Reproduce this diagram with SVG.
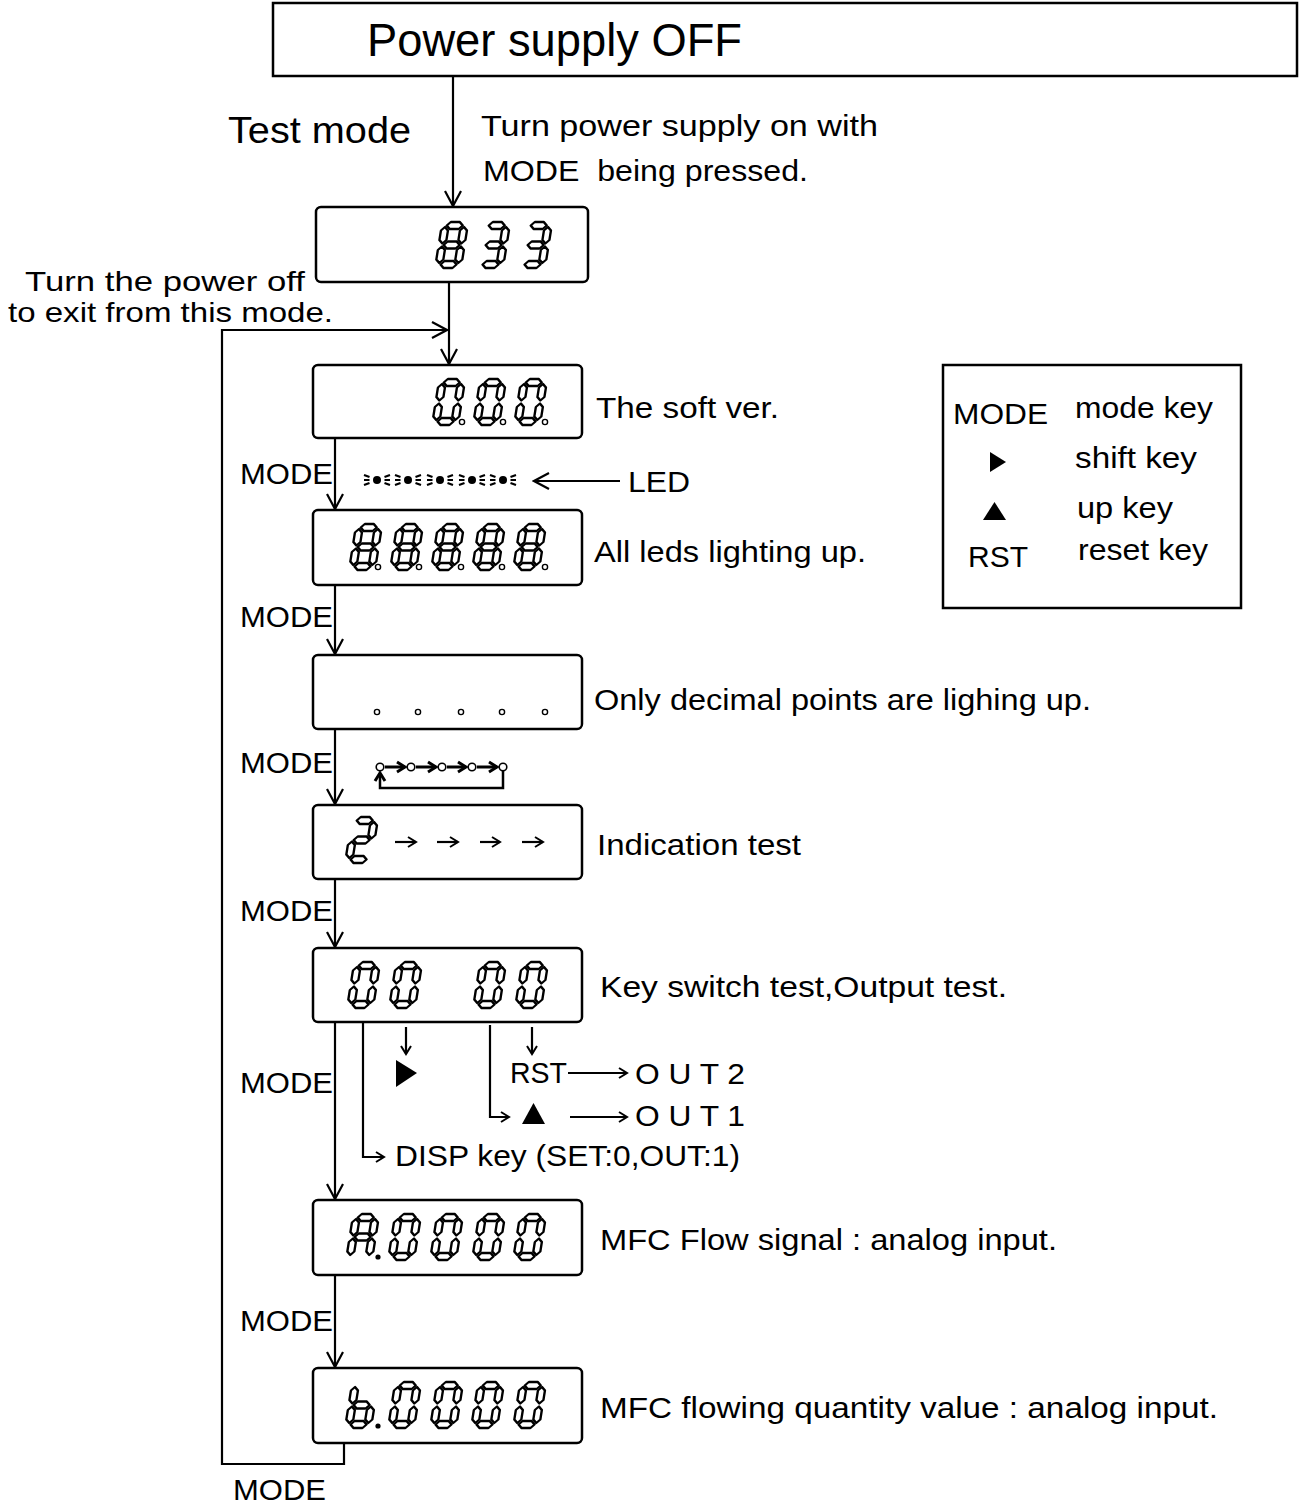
<svg xmlns="http://www.w3.org/2000/svg" xmlns:xlink="http://www.w3.org/1999/xlink" width="1300" height="1505" viewBox="0 0 1300 1505">
<style>
.t{font-family:"Liberation Sans",Arial,sans-serif;font-size:30px;fill:#000}
.box{fill:#fff;stroke:#000;stroke-width:2.5}
.disp{fill:#fff;stroke:#000;stroke-width:2.5}
.seg{fill:#fff;stroke:#000;stroke-width:2.4;stroke-linejoin:round}
.ln{fill:none;stroke:#000;stroke-width:2.2}
.dp{fill:#fff;stroke:#000;stroke-width:1.4}
</style>
<defs>
<marker id="av" viewBox="-18 -10 20 20" refX="0" refY="0" markerWidth="20" markerHeight="20" markerUnits="userSpaceOnUse" orient="auto">
<path d="M-15,-8 L0,0 L-15,8" fill="none" stroke="#000" stroke-width="2.2"/>
</marker>
<marker id="as" viewBox="-10 -7 12 14" refX="0" refY="0" markerWidth="12" markerHeight="14" markerUnits="userSpaceOnUse" orient="auto">
<path d="M-8,-5 L0,0 L-8,5" fill="none" stroke="#000" stroke-width="2"/>
</marker>
<marker id="ab" viewBox="-10 -7 12 14" refX="0" refY="0" markerWidth="12" markerHeight="14" markerUnits="userSpaceOnUse" orient="auto">
<path d="M-8,-5 L0,0 L-8,5" fill="none" stroke="#000" stroke-width="3"/>
</marker>
<path id="sa" class="seg" d="M5,-42.5 L8.5,-46 L17.5,-46 L21,-42.5 L17.5,-39 L8.5,-39 Z"/>
<path id="sg" class="seg" d="M5,-23 L8.5,-26.5 L17.5,-26.5 L21,-23 L17.5,-19.5 L8.5,-19.5 Z"/>
<path id="sd" class="seg" d="M5,-3.5 L8.5,-7 L17.5,-7 L21,-3.5 L17.5,0 L8.5,0 Z"/>
<path id="sb" class="seg" d="M22.5,-41 L26,-37.5 L26,-28 L22.5,-24.5 L19,-28 L19,-37.5 Z"/>
<path id="sc" class="seg" d="M22.5,-21.5 L26,-18 L26,-8.5 L22.5,-5 L19,-8.5 L19,-18 Z"/>
<path id="sf" class="seg" d="M3.5,-41 L7,-37.5 L7,-28 L3.5,-24.5 L0,-28 L0,-37.5 Z"/>
<path id="se" class="seg" d="M3.5,-21.5 L7,-18 L7,-8.5 L3.5,-5 L0,-8.5 L0,-18 Z"/>
<g id="d8"><use xlink:href="#sa"/><use xlink:href="#sb"/><use xlink:href="#sc"/><use xlink:href="#sd"/><use xlink:href="#se"/><use xlink:href="#sf"/><use xlink:href="#sg"/></g>
<g id="d0"><use xlink:href="#sa"/><use xlink:href="#sb"/><use xlink:href="#sc"/><use xlink:href="#sd"/><use xlink:href="#se"/><use xlink:href="#sf"/></g>
<g id="d3"><use xlink:href="#sa"/><use xlink:href="#sb"/><use xlink:href="#sc"/><use xlink:href="#sd"/><use xlink:href="#sg"/></g>
<g id="d2"><use xlink:href="#sa"/><use xlink:href="#sb"/><use xlink:href="#sg"/><use xlink:href="#se"/><use xlink:href="#sd"/></g>
<g id="dA"><use xlink:href="#sa"/><use xlink:href="#sb"/><use xlink:href="#sc"/><use xlink:href="#se"/><use xlink:href="#sf"/><use xlink:href="#sg"/></g>
<g id="db"><use xlink:href="#sc"/><use xlink:href="#sd"/><use xlink:href="#se"/><use xlink:href="#sf"/><use xlink:href="#sg"/></g>
<g id="led"><circle cx="0" cy="0" r="4" fill="#000"/><path d="M-13,-5 L-7.5,-3 M-13,0 L-7.5,0 M-13,5 L-7.5,3 M13,-5 L7.5,-3 M13,0 L7.5,0 M13,5 L7.5,3" stroke="#000" stroke-width="2.2" fill="none"/></g>
</defs>
<rect width="1300" height="1505" fill="#fff"/>

<g id="connectors">
<line class="ln" x1="453" y1="76" x2="453" y2="206" marker-end="url(#av)"/>
<line class="ln" x1="449" y1="282" x2="449" y2="364" marker-end="url(#av)"/>
<polyline class="ln" points="344,1443 344,1464 222,1464 222,330 447,330" marker-end="url(#av)"/>
<line class="ln" x1="335" y1="438" x2="335" y2="509" marker-end="url(#av)"/>
<line class="ln" x1="335" y1="585" x2="335" y2="654" marker-end="url(#av)"/>
<line class="ln" x1="335" y1="729" x2="335" y2="804" marker-end="url(#av)"/>
<line class="ln" x1="335" y1="879" x2="335" y2="947" marker-end="url(#av)"/>
<line class="ln" x1="335" y1="1022" x2="335" y2="1199" marker-end="url(#av)"/>
<line class="ln" x1="335" y1="1275" x2="335" y2="1367" marker-end="url(#av)"/>
<polyline class="ln" points="363,1022 363,1157 384,1157" marker-end="url(#as)"/>
<line class="ln" x1="406" y1="1027" x2="406" y2="1054" marker-end="url(#as)"/>
<polyline class="ln" points="490,1025 490,1117 509,1117" marker-end="url(#as)"/>
<line class="ln" x1="532" y1="1027" x2="532" y2="1054" marker-end="url(#as)"/>
<line class="ln" x1="568" y1="1073" x2="627" y2="1073" marker-end="url(#as)"/>
<line class="ln" x1="570" y1="1117" x2="627" y2="1117" marker-end="url(#as)"/>
<line class="ln" x1="620" y1="481" x2="534" y2="481" marker-end="url(#av)"/>
</g>

<g id="power-off">
<rect class="box" x="273" y="3" width="1024" height="73"/>
<text class="t" x="367" y="56" style="font-size:46px" textLength="375" lengthAdjust="spacingAndGlyphs">Power supply OFF</text>
</g>

<g id="test-mode-labels">
<text class="t" x="228" y="143" style="font-size:36px" textLength="183" lengthAdjust="spacingAndGlyphs">Test mode</text>
<text class="t" x="481" y="136" textLength="397" lengthAdjust="spacingAndGlyphs">Turn power supply on with</text>
<text class="t" x="483" y="181" textLength="325" lengthAdjust="spacingAndGlyphs">MODE&#160; being pressed.</text>
<text class="t" x="25" y="291" style="font-size:28px" textLength="280" lengthAdjust="spacingAndGlyphs">Turn the power off</text>
<text class="t" x="8" y="322" style="font-size:28px" textLength="325" lengthAdjust="spacingAndGlyphs">to exit from this mode.</text>
</g>

<g id="disp-833">
<rect class="disp" x="316" y="207" width="272" height="75" rx="5"/>
<use xlink:href="#d8" transform="translate(435,268) skewX(-9)"/>
<use xlink:href="#d3" transform="translate(477,268) skewX(-9)"/>
<use xlink:href="#d3" transform="translate(519,268) skewX(-9)"/>
</g>

<g id="disp-000">
<rect class="disp" x="313" y="365" width="269" height="73" rx="5"/>
<use xlink:href="#d0" transform="translate(432,425) skewX(-9)"/>
<use xlink:href="#d0" transform="translate(473,425) skewX(-9)"/>
<use xlink:href="#d0" transform="translate(514,425) skewX(-9)"/>
<circle class="dp" cx="462" cy="422" r="2.6"/>
<circle class="dp" cx="503" cy="422" r="2.6"/>
<circle class="dp" cx="545" cy="422" r="2.6"/>
<text class="t" x="596" y="418" textLength="183" lengthAdjust="spacingAndGlyphs">The soft ver.</text>
</g>

<g id="led-row">
<use xlink:href="#led" x="377" y="480"/>
<use xlink:href="#led" x="408" y="480"/>
<use xlink:href="#led" x="440" y="480"/>
<use xlink:href="#led" x="472" y="480"/>
<use xlink:href="#led" x="503" y="480"/>
<text class="t" x="628" y="492" textLength="62" lengthAdjust="spacingAndGlyphs">LED</text>
</g>

<g id="disp-88888">
<rect class="disp" x="313" y="510" width="269" height="75" rx="5"/>
<use xlink:href="#d8" transform="translate(349,570) skewX(-9)"/>
<use xlink:href="#d8" transform="translate(390,570) skewX(-9)"/>
<use xlink:href="#d8" transform="translate(431,570) skewX(-9)"/>
<use xlink:href="#d8" transform="translate(472,570) skewX(-9)"/>
<use xlink:href="#d8" transform="translate(513,570) skewX(-9)"/>
<circle class="dp" cx="378" cy="567" r="2.6"/>
<circle class="dp" cx="419" cy="567" r="2.6"/>
<circle class="dp" cx="461" cy="567" r="2.6"/>
<circle class="dp" cx="502" cy="567" r="2.6"/>
<circle class="dp" cx="545" cy="567" r="2.6"/>
<text class="t" x="594" y="562" textLength="272" lengthAdjust="spacingAndGlyphs">All leds lighting up.</text>
</g>

<g id="disp-dp">
<rect class="disp" x="313" y="655" width="269" height="74" rx="5"/>
<circle class="dp" cx="377" cy="712" r="2.6"/>
<circle class="dp" cx="418" cy="712" r="2.6"/>
<circle class="dp" cx="461" cy="712" r="2.6"/>
<circle class="dp" cx="502" cy="712" r="2.6"/>
<circle class="dp" cx="545" cy="712" r="2.6"/>
<text class="t" x="594" y="710" textLength="497" lengthAdjust="spacingAndGlyphs">Only decimal points are lighing up.</text>
</g>

<g id="dp-sequence">
<circle cx="380" cy="767" r="3.8" fill="#fff" stroke="#000" stroke-width="1.6"/>
<circle cx="411" cy="767" r="3.8" fill="#fff" stroke="#000" stroke-width="1.6"/>
<circle cx="442" cy="767" r="3.8" fill="#fff" stroke="#000" stroke-width="1.6"/>
<circle cx="472" cy="767" r="3.8" fill="#fff" stroke="#000" stroke-width="1.6"/>
<circle cx="503" cy="767" r="3.8" fill="#fff" stroke="#000" stroke-width="1.6"/>
<line x1="385" y1="767" x2="405" y2="767" stroke="#000" stroke-width="3" marker-end="url(#ab)"/>
<line x1="416" y1="767" x2="436" y2="767" stroke="#000" stroke-width="3" marker-end="url(#ab)"/>
<line x1="447" y1="767" x2="466" y2="767" stroke="#000" stroke-width="3" marker-end="url(#ab)"/>
<line x1="477" y1="767" x2="497" y2="767" stroke="#000" stroke-width="3" marker-end="url(#ab)"/>
<polyline points="503,771 503,788 380,788 380,773" fill="none" stroke="#000" stroke-width="2.5" marker-end="url(#ab)"/>
</g>

<g id="disp-indication">
<rect class="disp" x="313" y="805" width="269" height="74" rx="5"/>
<use xlink:href="#d2" transform="translate(345,863) skewX(-9)"/>
<line x1="395" y1="842" x2="416" y2="842" stroke="#000" stroke-width="2.2" marker-end="url(#as)"/>
<line x1="437" y1="842" x2="458" y2="842" stroke="#000" stroke-width="2.2" marker-end="url(#as)"/>
<line x1="480" y1="842" x2="500" y2="842" stroke="#000" stroke-width="2.2" marker-end="url(#as)"/>
<line x1="522" y1="842" x2="543" y2="842" stroke="#000" stroke-width="2.2" marker-end="url(#as)"/>
<text class="t" x="597" y="855" textLength="204" lengthAdjust="spacingAndGlyphs">Indication test</text>
</g>

<g id="disp-keytest">
<rect class="disp" x="313" y="948" width="269" height="74" rx="5"/>
<use xlink:href="#d0" transform="translate(347,1008) skewX(-9)"/>
<use xlink:href="#d0" transform="translate(389,1008) skewX(-9)"/>
<use xlink:href="#d0" transform="translate(473,1008) skewX(-9)"/>
<use xlink:href="#d0" transform="translate(515,1008) skewX(-9)"/>
<text class="t" x="600" y="997" textLength="407" lengthAdjust="spacingAndGlyphs">Key switch test,Output test.</text>
</g>

<g id="key-outputs">
<polygon points="396,1060 417,1073 396,1087" fill="#000"/>
<polygon points="533.5,1103 545,1124 522,1124" fill="#000"/>
<text class="t" x="510" y="1083" textLength="57" lengthAdjust="spacingAndGlyphs">RST</text>
<text class="t" x="635" y="1084" textLength="110" lengthAdjust="spacingAndGlyphs">O U T 2</text>
<text class="t" x="635" y="1126" textLength="110" lengthAdjust="spacingAndGlyphs">O U T 1</text>
<text class="t" x="395" y="1166" textLength="345" lengthAdjust="spacingAndGlyphs">DISP key (SET:0,OUT:1)</text>
</g>

<g id="disp-A0000">
<rect class="disp" x="313" y="1200" width="269" height="75" rx="5"/>
<use xlink:href="#dA" transform="translate(346,1260) skewX(-9)"/>
<use xlink:href="#d0" transform="translate(388,1260) skewX(-9)"/>
<use xlink:href="#d0" transform="translate(430,1260) skewX(-9)"/>
<use xlink:href="#d0" transform="translate(472,1260) skewX(-9)"/>
<use xlink:href="#d0" transform="translate(513,1260) skewX(-9)"/>
<circle cx="378" cy="1257" r="2.6" fill="#000"/>
<text class="t" x="600" y="1250" textLength="457" lengthAdjust="spacingAndGlyphs">MFC Flow signal : analog input.</text>
</g>

<g id="disp-b0000">
<rect class="disp" x="313" y="1368" width="269" height="75" rx="5"/>
<use xlink:href="#db" transform="translate(345,1428) skewX(-9)"/>
<use xlink:href="#d0" transform="translate(388,1428) skewX(-9)"/>
<use xlink:href="#d0" transform="translate(430,1428) skewX(-9)"/>
<use xlink:href="#d0" transform="translate(471,1428) skewX(-9)"/>
<use xlink:href="#d0" transform="translate(513,1428) skewX(-9)"/>
<circle cx="378" cy="1426" r="2.6" fill="#000"/>
<text class="t" x="600" y="1418" textLength="618" lengthAdjust="spacingAndGlyphs">MFC flowing quantity value : analog input.</text>
</g>

<g id="mode-labels">
<text class="t" x="240" y="484" textLength="93" lengthAdjust="spacingAndGlyphs">MODE</text>
<text class="t" x="240" y="627" textLength="93" lengthAdjust="spacingAndGlyphs">MODE</text>
<text class="t" x="240" y="773" textLength="93" lengthAdjust="spacingAndGlyphs">MODE</text>
<text class="t" x="240" y="921" textLength="93" lengthAdjust="spacingAndGlyphs">MODE</text>
<text class="t" x="240" y="1093" textLength="93" lengthAdjust="spacingAndGlyphs">MODE</text>
<text class="t" x="240" y="1331" textLength="93" lengthAdjust="spacingAndGlyphs">MODE</text>
<text class="t" x="233" y="1500" textLength="93" lengthAdjust="spacingAndGlyphs">MODE</text>
</g>

<g id="legend">
<rect class="box" x="943" y="365" width="298" height="243"/>
<text class="t" x="953" y="424" textLength="95" lengthAdjust="spacingAndGlyphs">MODE</text>
<text class="t" x="1075" y="418" textLength="138" lengthAdjust="spacingAndGlyphs">mode key</text>
<polygon points="990,452 1006,462 990,472" fill="#000"/>
<text class="t" x="1075" y="468" textLength="122" lengthAdjust="spacingAndGlyphs">shift key</text>
<polygon points="994.5,502 1006,520 983,520" fill="#000"/>
<text class="t" x="1077" y="518" textLength="96" lengthAdjust="spacingAndGlyphs">up key</text>
<text class="t" x="968" y="567" textLength="60" lengthAdjust="spacingAndGlyphs">RST</text>
<text class="t" x="1078" y="560" textLength="130" lengthAdjust="spacingAndGlyphs">reset key</text>
</g>
</svg>
